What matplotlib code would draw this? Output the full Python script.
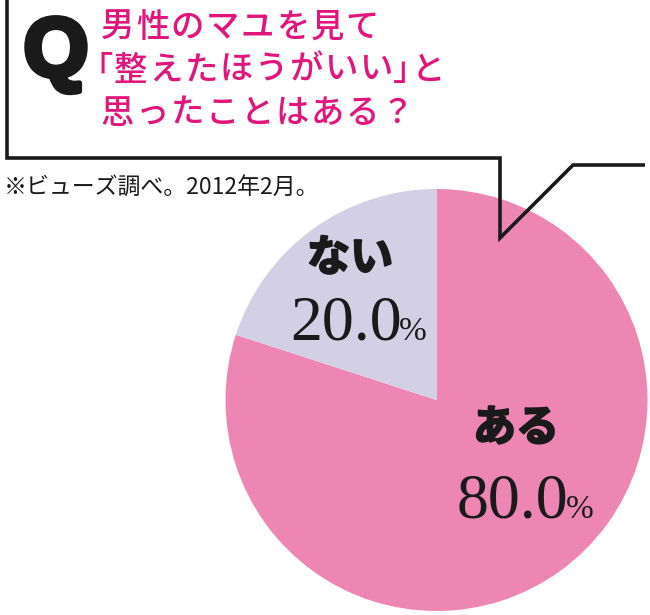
import matplotlib
matplotlib.use("Agg")
import matplotlib.pyplot as plt
import matplotlib.patheffects as pe

# ---- data ----
categories = ["ある", "ない"]
values = [80.0, 20.0]
colors = ["#EE86B4", "#D3D0E6"]
title_lines = ["男性のマユを見て", "「整えたほうがいい」と", "思ったことはある？"]
note = "※ビューズ調べ。2012年2月。"

W, H = 650, 615
fig = plt.figure(figsize=(W / 100, H / 100), dpi=100)
fig.patch.set_facecolor("white")

# pie axes placed in pixel space
cx, cy, r = 436.5, 400, 211
pax = fig.add_axes([(cx - r) / W, (H - cy - r) / H, 2 * r / W, 2 * r / H])
pax.pie(values, colors=colors, startangle=90, counterclock=False, radius=1,
        wedgeprops=dict(linewidth=0))
pax.set_xlim(-1, 1)
pax.set_ylim(-1, 1)
pax.set_aspect("equal")
pax.axis("off")

# overlay axes in pixel coordinates
ax = fig.add_axes([0, 0, 1, 1])
ax.set_xlim(0, W)
ax.set_ylim(H, 0)
ax.axis("off")
ax.patch.set_alpha(0)

ink = "#1a1a1a"
# callout outline
ax.plot([7, 7, 500, 500, 573, 645], [0, 158, 158, 238, 165, 165],
        color=ink, lw=2.6, solid_joinstyle="miter", solid_capstyle="butt")

# Q
ax.text(56, 76, "Q", fontsize=60, fontweight="bold", family="Liberation Sans",
        color=ink, ha="center", va="baseline",
        path_effects=[pe.withStroke(linewidth=4, foreground=ink)])

jp = ["Noto Sans CJK JP", "DejaVu Sans"]
pink = "#E2157D"
adv = 35
fs_title = 24
baselines = [37, 80, 123]
for line, yb in zip(title_lines, baselines):
    x = 100 if not line.startswith("「") else 96
    for ch in line:
        if ch == "「":
            ax.text(x + adv / 2 - 1, yb, ch, fontsize=fs_title, family=jp, color=pink,
                    fontweight="medium", ha="right", va="baseline")
            x += adv / 2
        elif ch == "」":
            ax.text(x - 1, yb, ch, fontsize=fs_title, family=jp, color=pink,
                    fontweight="medium", ha="left", va="baseline")
            x += adv / 2
        else:
            ax.text(x + adv / 2, yb, ch, fontsize=fs_title, family=jp, color=pink,
                    fontweight="medium", ha="center", va="baseline")
            x += adv

ax.text(4, 194, note, fontsize=16.5, family=jp, color=ink,
        ha="left", va="baseline")

# slice labels
label_pos = {"ある": (516, 428, 457, 518), "ない": (350, 258, 290, 340)}
for cat, v in zip(categories, values):
    lx, ly, nx, ny = label_pos[cat]
    ax.text(lx, ly, cat, fontsize=31, fontweight="bold", family=jp,
            color=ink, ha="center", va="center",
            path_effects=[pe.withStroke(linewidth=1.5, foreground=ink)])
    ax.text(nx, ny, f"{v:.1f}", fontsize=46, family="Liberation Serif",
            color=ink, ha="left", va="baseline")
    ax.text(nx + 109, ny, "%", fontsize=24, family="Liberation Serif",
            color=ink, ha="left", va="baseline")

fig.savefig("out.png", dpi=100, facecolor="white")
